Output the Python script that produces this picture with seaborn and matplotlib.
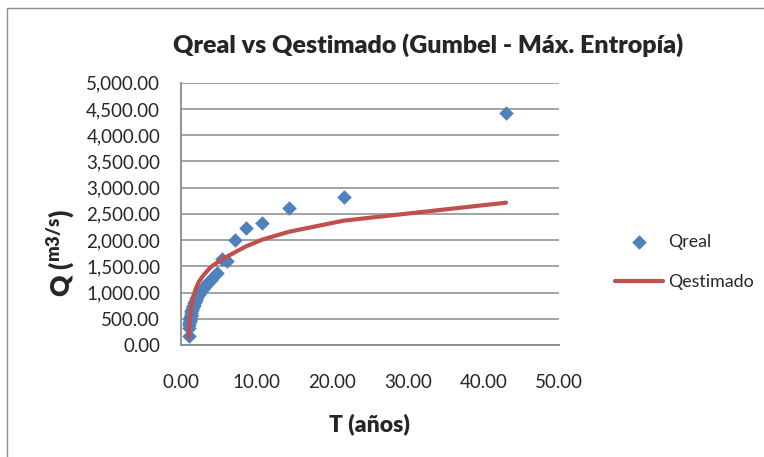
import numpy as np
import pandas as pd
import matplotlib
matplotlib.use("Agg")
import matplotlib.pyplot as plt
import matplotlib.ticker as mticker
from matplotlib.patches import Rectangle
import seaborn as sns

# periodo de retorno T = (n+1)/m, n = 42
n_datos = 42
T_anios = [43.0 / m for m in range(1, n_datos + 1)]

Q_real = [4420, 2830, 2610, 2330, 2225, 2010, 1600, 1630, 1365, 1320,
          1240, 1195, 1150, 1110, 1075, 1040, 1005, 975, 945, 915,
          890, 860, 835, 815, 795, 770, 745, 720, 695, 665,
          640, 610, 580, 555, 530, 505, 480, 455, 420, 385,
          330, 180]

# caudales estimados Gumbel - max. entropia
Q_estimado = [2713, 2370, 2160, 2010, 1880, 1770, 1690, 1625, 1570, 1525,
              1480, 1430, 1385, 1345, 1310, 1275, 1240, 1210, 1175, 1140,
              1105, 1070, 1035, 995, 965, 935, 900, 870, 830, 790,
              755, 710, 670, 630, 590, 545, 500, 455, 405, 350,
              270, 150]

df = pd.DataFrame({"T": T_anios, "Qreal": Q_real, "Qestimado": Q_estimado})

sns.set_style("white")
plt.rcParams["font.family"] = ["Lato", "DejaVu Sans"]
plt.rcParams["mathtext.fontset"] = "custom"
plt.rcParams["mathtext.rm"] = "Lato:bold"

W, H = 764, 457
fig = plt.figure(figsize=(W / 100, H / 100), dpi=100)
ax = fig.add_axes([181 / W, 1 - 345 / H, (559 - 181) / W, (345 - 82.7) / H])

# borde del area del grafico
fig.patches.append(Rectangle((7 / W, -0.5), 2, 1.5 - 8 / H, transform=fig.transFigure,
                             fill=False, edgecolor="#8c8c8c", linewidth=1.0))

sns.scatterplot(data=df, x="T", y="Qreal", ax=ax, marker="D", s=55, color="#4F81BD",
                linewidth=0, label="Qreal", zorder=3)
sns.lineplot(data=df, x="T", y="Qestimado", ax=ax, color="#C0504D", linewidth=3,
             estimator=None, label="Qestimado", zorder=4)

ax.set_xlim(0, 50)
ax.set_ylim(0, 5000)
ax.set_xticks(np.arange(0, 51, 10))
ax.set_yticks(np.arange(0, 5001, 500))
ax.xaxis.set_major_formatter(mticker.FuncFormatter(lambda v, p: f"{v:.2f}"))
ax.yaxis.set_major_formatter(mticker.FuncFormatter(lambda v, p: f"{v:,.2f}"))
ax.tick_params(axis="x", length=0, pad=21, labelsize=13.5)
ax.tick_params(axis="y", length=0, pad=15, labelsize=13.5)
ax.grid(axis="y", color="#8a8a8a", linewidth=1.1)
ax.set_axisbelow(True)
for s in ["top", "right"]:
    ax.spines[s].set_visible(False)
for s in ["left", "bottom"]:
    ax.spines[s].set_color("#8a8a8a")
    ax.spines[s].set_linewidth(1.3)
ax.set_xlabel("")
ax.set_ylabel("")

fig.text(428 / W, 1 - 45 / H, "Qreal vs Qestimado (Gumbel - Máx. Entropía)",
         ha="center", va="center", fontsize=18, fontweight="heavy")
fig.text(369 / W, 1 - 424 / H, "T (años)", ha="center", va="center",
         fontsize=16.5, fontweight="heavy")

# etiqueta del eje y: Q (m3/s)
fig.text(61 / W, 1 - 253 / H, r"Q ($\mathregular{^{m3/s}}$)", rotation=90,
         ha="center", va="center", fontsize=19, fontweight="heavy")

ax.legend(loc="center left", bbox_to_anchor=(615 / W, 1 - 262 / H),
          bbox_transform=fig.transFigure, frameon=False, borderpad=0,
          borderaxespad=0, handlelength=2.7, handletextpad=0.3,
          labelspacing=1.4, fontsize=12.8)

fig.savefig("out.png", dpi=100)
